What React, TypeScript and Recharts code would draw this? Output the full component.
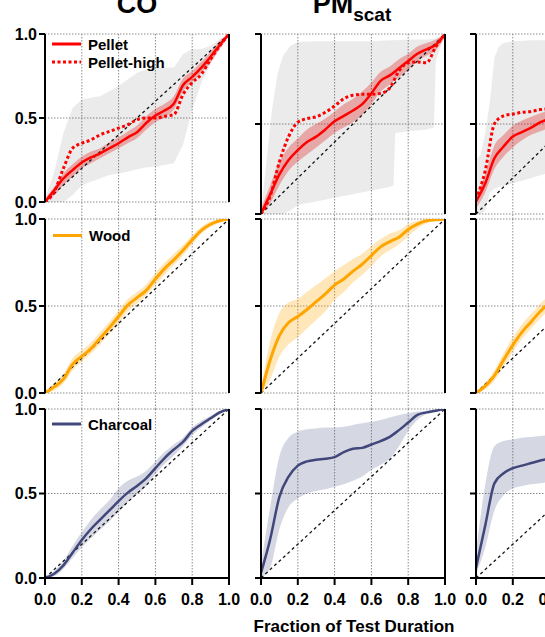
import React from 'react';
import { ComposedChart, Area, Line, XAxis, YAxis, CartesianGrid, ReferenceLine } from 'recharts';

const FONT = '"Liberation Sans", Arial, Helvetica, sans-serif';

// shared x positions (fraction of test duration)
const frac = [0, 0.05, 0.1, 0.15, 0.2, 0.25, 0.3, 0.35, 0.4, 0.45, 0.5, 0.55, 0.6, 0.65, 0.7, 0.75, 0.8, 0.85, 0.9, 0.95, 1];
const fracCut = [0, 0.05, 0.1, 0.15, 0.2, 0.25, 0.3, 0.35, 0.4, 0.45];
const xTicks = [0, 0.2, 0.4, 0.6, 0.8, 1];
const xGrid = [0.2, 0.4, 0.6, 0.8];
const yTicks = [0, 0.5, 1];

// ---- Pellet, CO
const coPellet = [0, 0.07, 0.14, 0.19, 0.235, 0.265, 0.29, 0.32, 0.35, 0.385, 0.415, 0.47, 0.515, 0.545, 0.585, 0.695, 0.745, 0.8, 0.865, 0.935, 1];
const coPelletHigh = [0, 0.06, 0.2, 0.32, 0.35, 0.37, 0.4, 0.42, 0.44, 0.46, 0.49, 0.5, 0.5, 0.51, 0.52, 0.64, 0.71, 0.76, 0.85, 0.93, 1];
const coPelletLo = [0, 0.04, 0.1, 0.15, 0.2, 0.23, 0.26, 0.29, 0.32, 0.35, 0.38, 0.43, 0.475, 0.505, 0.55, 0.66, 0.715, 0.77, 0.83, 0.91, 0.99];
const coPelletHi = [0.02, 0.09, 0.17, 0.225, 0.27, 0.3, 0.32, 0.355, 0.385, 0.42, 0.455, 0.51, 0.555, 0.585, 0.63, 0.735, 0.78, 0.835, 0.895, 0.96, 1];
const coGreyLo = [0, 0, 0, 0.04, 0.1, 0.12, 0.14, 0.16, 0.17, 0.18, 0.195, 0.205, 0.21, 0.22, 0.23, 0.34, 0.55, 0.71, 0.82, 0.92, 1];
const coGreyHi = [0.02, 0.18, 0.41, 0.56, 0.61, 0.62, 0.63, 0.66, 0.69, 0.73, 0.77, 0.79, 0.8, 0.8, 0.8, 0.88, 0.91, 0.91, 0.93, 0.97, 1];

// ---- Pellet, PM scat
const pmPellet = [0, 0.11, 0.22, 0.3, 0.355, 0.4, 0.43, 0.47, 0.515, 0.545, 0.575, 0.61, 0.67, 0.74, 0.77, 0.81, 0.85, 0.89, 0.915, 0.94, 1];
const pmPelletHigh = [0, 0.1, 0.29, 0.43, 0.51, 0.53, 0.54, 0.565, 0.6, 0.64, 0.66, 0.665, 0.665, 0.67, 0.7, 0.795, 0.84, 0.845, 0.84, 0.93, 1];
const pmPelletLo = [0, 0.06, 0.16, 0.24, 0.29, 0.33, 0.37, 0.41, 0.45, 0.48, 0.51, 0.55, 0.61, 0.68, 0.72, 0.76, 0.8, 0.85, 0.88, 0.91, 0.98];
const pmPelletHi = [0.03, 0.16, 0.29, 0.37, 0.42, 0.47, 0.5, 0.53, 0.57, 0.61, 0.64, 0.68, 0.73, 0.79, 0.82, 0.86, 0.89, 0.93, 0.95, 0.97, 1];
const pmGreyX = [0, 0.02, 0.06, 0.09, 0.12, 0.16, 0.2, 0.3, 0.4, 0.5, 0.6, 0.7, 0.72, 0.73, 0.8, 0.9, 0.94, 0.95, 1];
const pmGreyLo = [0, 0, 0, 0, 0, 0.02, 0.05, 0.07, 0.09, 0.11, 0.13, 0.15, 0.16, 0.45, 0.46, 0.47, 0.48, 0.85, 1];
const pmGreyHi = [0.02, 0.2, 0.58, 0.78, 0.88, 0.935, 0.955, 0.96, 0.96, 0.96, 0.96, 0.965, 0.965, 0.965, 0.97, 0.97, 0.975, 0.975, 1];

// ---- Pellet, third column
const c3Pellet = [0.07, 0.17, 0.31, 0.375, 0.43, 0.455, 0.48, 0.51, 0.53, 0.55];
const c3PelletHigh = [0.08, 0.24, 0.5, 0.545, 0.555, 0.565, 0.57, 0.58, 0.585, 0.59];
const c3PelletLo = [0.03, 0.12, 0.25, 0.32, 0.37, 0.41, 0.44, 0.46, 0.48, 0.5];
const c3PelletHi = [0.1, 0.22, 0.38, 0.44, 0.49, 0.52, 0.54, 0.56, 0.58, 0.6];
const c3GreyX = [0, 0.025, 0.05, 0.075, 0.1, 0.125, 0.15, 0.2, 0.3, 0.4, 0.5];
const c3GreyLo = [0, 0, 0.02, 0.12, 0.14, 0.15, 0.155, 0.17, 0.2, 0.23, 0.25];
const c3GreyHi = [0.3, 0.33, 0.45, 0.62, 0.87, 0.93, 0.95, 0.96, 0.965, 0.965, 0.965];

// ---- Wood
const woodCo = [0, 0.035, 0.08, 0.165, 0.21, 0.255, 0.315, 0.375, 0.44, 0.505, 0.548, 0.59, 0.655, 0.715, 0.765, 0.82, 0.88, 0.935, 0.97, 0.99, 1];
const woodCoLo = [0, 0.015, 0.055, 0.13, 0.18, 0.225, 0.28, 0.34, 0.4, 0.47, 0.515, 0.56, 0.62, 0.68, 0.735, 0.79, 0.855, 0.915, 0.955, 0.98, 0.995];
const woodCoHi = [0.01, 0.055, 0.11, 0.2, 0.245, 0.29, 0.35, 0.41, 0.475, 0.54, 0.58, 0.625, 0.69, 0.75, 0.8, 0.85, 0.905, 0.955, 0.985, 0.997, 1];
const woodPm = [0, 0.19, 0.33, 0.405, 0.44, 0.48, 0.525, 0.57, 0.62, 0.655, 0.7, 0.74, 0.79, 0.84, 0.87, 0.895, 0.94, 0.97, 0.99, 0.995, 1];
const woodPmLo = [0, 0.08, 0.21, 0.28, 0.32, 0.37, 0.42, 0.47, 0.535, 0.58, 0.635, 0.68, 0.73, 0.785, 0.82, 0.855, 0.9, 0.945, 0.975, 0.99, 1];
const woodPmHi = [0.02, 0.3, 0.46, 0.52, 0.54, 0.58, 0.62, 0.66, 0.7, 0.735, 0.77, 0.8, 0.845, 0.885, 0.915, 0.935, 0.97, 0.99, 1, 1, 1];
const woodC3 = [0, 0.04, 0.1, 0.19, 0.275, 0.35, 0.41, 0.47, 0.52, 0.57];
const woodC3Lo = [0, 0.02, 0.07, 0.15, 0.235, 0.31, 0.37, 0.43, 0.48, 0.53];
const woodC3Hi = [0.01, 0.06, 0.13, 0.23, 0.32, 0.395, 0.455, 0.515, 0.565, 0.615];

// ---- Charcoal
const charCo = [0, 0.025, 0.075, 0.15, 0.225, 0.29, 0.345, 0.4, 0.455, 0.505, 0.545, 0.59, 0.65, 0.71, 0.76, 0.805, 0.87, 0.91, 0.945, 0.98, 1];
const charCoLo = [0, 0.01, 0.055, 0.12, 0.18, 0.235, 0.285, 0.335, 0.39, 0.45, 0.495, 0.545, 0.615, 0.675, 0.725, 0.78, 0.845, 0.89, 0.93, 0.97, 1];
const charCoHi = [0.01, 0.04, 0.1, 0.19, 0.27, 0.345, 0.405, 0.46, 0.53, 0.575, 0.6, 0.635, 0.69, 0.745, 0.79, 0.83, 0.89, 0.93, 0.96, 0.99, 1];
const charPm = [0.03, 0.23, 0.48, 0.6, 0.665, 0.69, 0.7, 0.705, 0.715, 0.745, 0.765, 0.77, 0.79, 0.81, 0.835, 0.875, 0.92, 0.965, 0.98, 0.99, 1];
const charPmLo = [0, 0.06, 0.29, 0.42, 0.47, 0.5, 0.515, 0.525, 0.54, 0.555, 0.575, 0.6, 0.64, 0.67, 0.705, 0.78, 0.87, 0.935, 0.97, 0.985, 1];
const charPmHi = [0.08, 0.42, 0.72, 0.83, 0.865, 0.88, 0.885, 0.89, 0.89, 0.895, 0.905, 0.915, 0.925, 0.935, 0.95, 0.965, 0.975, 0.985, 0.99, 0.997, 1];
const charC3 = [0.06, 0.31, 0.56, 0.62, 0.65, 0.665, 0.68, 0.695, 0.705, 0.71];
const charC3Lo = [0.02, 0.18, 0.4, 0.49, 0.53, 0.545, 0.555, 0.56, 0.57, 0.575];
const charC3Hi = [0.15, 0.55, 0.78, 0.81, 0.82, 0.83, 0.835, 0.84, 0.845, 0.85];

const RED = '#ff0000';
const ORANGE = '#ffa500';
const NAVY = '#41477a';

type Band = { xs: number[]; lo: number[]; hi: number[]; fill: string; opacity: number; curve: 'linear' | 'monotone' };
type Trace = { xs: number[]; ys: number[]; stroke: string; width: number; dash?: string };

const toBand = (xs: number[], lo: number[], hi: number[]) => xs.map((x, i) => ({ x, range: [lo[i], hi[i]] }));
const toLine = (xs: number[], ys: number[]) => xs.map((x, i) => ({ x, y: ys[i] }));

const grey = (xs: number[], lo: number[], hi: number[]): Band => ({ xs, lo, hi, fill: '#000', opacity: 0.08, curve: 'linear' });
const pink = (xs: number[], lo: number[], hi: number[]): Band => ({ xs, lo, hi, fill: '#e10000', opacity: 0.285, curve: 'monotone' });
const amber = (xs: number[], lo: number[], hi: number[]): Band => ({ xs, lo, hi, fill: ORANGE, opacity: 0.27, curve: 'monotone' });
const slate = (xs: number[], lo: number[], hi: number[]): Band => ({ xs, lo, hi, fill: NAVY, opacity: 0.22, curve: 'monotone' });

const pellet = (xs: number[], ys: number[]): Trace => ({ xs, ys, stroke: RED, width: 2.5 });
const pelletHigh = (xs: number[], ys: number[]): Trace => ({ xs, ys, stroke: RED, width: 3, dash: '3 2.5' });

const tickStyle = { fontSize: 16, fontWeight: 700, fill: '#000', fontFamily: FONT };
const YW = 45, MT = 20, MB = 10, MR = 16, XH = 42, PW = 184;

// gap (in px) above a panel that the vertical grid lines run through
function Panel({ left, top, h, gapAbove, bands, traces, yLabels, xAxis }: {
  left: number; top: number; h: number; gapAbove: number; bands: Band[]; traces: Trace[]; yLabels: boolean; xAxis: boolean;
}) {
  const height = MT + h + (xAxis ? XH : MB);
  const ext = 1 + gapAbove / h;
  return (
    <div style={{ position: 'absolute', left: left - YW, top: top - MT }}>
      <ComposedChart width={YW + PW + MR} height={height} margin={{ top: MT, right: MR, bottom: xAxis ? 0 : MB, left: 0 }}>
        <CartesianGrid stroke="#8c8c8c" strokeDasharray="1.5 1.5" horizontalValues={yTicks} verticalValues={xGrid} />
        <XAxis
          type="number" dataKey="x" domain={[0, 1]} ticks={xTicks} allowDataOverflow interval={0}
          hide={!xAxis} height={XH}
          axisLine={{ stroke: '#000', strokeWidth: 2 }}
          tickLine={{ stroke: '#000', strokeWidth: 2 }}
          tickSize={7} tickMargin={9} tick={tickStyle}
          tickFormatter={(v: number) => v.toFixed(1)}
        />
        <YAxis
          type="number" domain={[0, 1]} ticks={yTicks} allowDataOverflow interval={0} width={YW}
          axisLine={{ stroke: '#000', strokeWidth: 2 }}
          tickLine={{ stroke: '#000', strokeWidth: 2 }}
          tickSize={6} tickMargin={2} tick={tickStyle}
          tickFormatter={(v: number) => (yLabels ? v.toFixed(1) : '')}
        />
        {gapAbove > 0 && xGrid.map(g => (
          <ReferenceLine key={'g' + g} segment={[{ x: g, y: 1 }, { x: g, y: ext }]} ifOverflow="visible"
            stroke="#8c8c8c" strokeDasharray="1.5 1.5" />
        ))}
        {bands.map((b, i) => (
          <Area key={'b' + i} data={toBand(b.xs, b.lo, b.hi)} dataKey="range" type={b.curve}
            stroke="none" fill={b.fill} fillOpacity={b.opacity} isAnimationActive={false} />
        ))}
        <ReferenceLine segment={[{ x: 0, y: 0 }, { x: 1, y: 1 }]} stroke="#111" strokeWidth={1.3} strokeDasharray="3 3" />
        {traces.map((t, i) => (
          <Line key={'t' + i} data={toLine(t.xs, t.ys)} dataKey="y" type="monotone" stroke={t.stroke}
            strokeWidth={t.width} strokeDasharray={t.dash} dot={false} isAnimationActive={false} />
        ))}
        <ReferenceLine x={1} stroke="#000" strokeWidth={2} />
      </ComposedChart>
    </div>
  );
}

function LegendItem({ x, y, label, color, dash }: { x: number; y: number; label: string; color: string; dash?: string }) {
  return (
    <g>
      <line x1={x} x2={x + 29} y1={y} y2={y} stroke={color} strokeWidth={3} strokeDasharray={dash} />
      <text x={x + 36} y={y + 5.5} fontSize={15} fontWeight={700} fontFamily={FONT} fill="#000">{label}</text>
    </g>
  );
}

export default function App() {
  const cols = [45, 261, 476];
  return (
    <div style={{ position: 'absolute', left: 0, top: 0, width: 545, height: 637, overflow: 'hidden', background: '#fff' }}>
      {/* row 1: pellet */}
      <Panel left={cols[0]} top={34} h={168} gapAbove={0} yLabels xAxis={false}
        bands={[grey(frac, coGreyLo, coGreyHi), pink(frac, coPelletLo, coPelletHi)]}
        traces={[pellet(frac, coPellet), pelletHigh(frac, coPelletHigh)]} />
      <Panel left={cols[1]} top={34} h={180} gapAbove={0} yLabels={false} xAxis={false}
        bands={[grey(pmGreyX, pmGreyLo, pmGreyHi), pink(frac, pmPelletLo, pmPelletHi)]}
        traces={[pellet(frac, pmPellet), pelletHigh(frac, pmPelletHigh)]} />
      <Panel left={cols[2]} top={34} h={180} gapAbove={0} yLabels={false} xAxis={false}
        bands={[grey(c3GreyX, c3GreyLo, c3GreyHi), pink(fracCut, c3PelletLo, c3PelletHi)]}
        traces={[pellet(fracCut, c3Pellet), pelletHigh(fracCut, c3PelletHigh)]} />

      {/* row 2: wood */}
      <Panel left={cols[0]} top={219} h={174} gapAbove={17} yLabels xAxis={false}
        bands={[amber(frac, woodCoLo, woodCoHi)]}
        traces={[{ xs: frac, ys: woodCo, stroke: ORANGE, width: 3 }]} />
      <Panel left={cols[1]} top={219} h={174} gapAbove={5} yLabels={false} xAxis={false}
        bands={[amber(frac, woodPmLo, woodPmHi)]}
        traces={[{ xs: frac, ys: woodPm, stroke: ORANGE, width: 3 }]} />
      <Panel left={cols[2]} top={219} h={174} gapAbove={5} yLabels={false} xAxis={false}
        bands={[amber(fracCut, woodC3Lo, woodC3Hi)]}
        traces={[{ xs: fracCut, ys: woodC3, stroke: ORANGE, width: 3 }]} />

      {/* row 3: charcoal */}
      <Panel left={cols[0]} top={409} h={169} gapAbove={16} yLabels xAxis
        bands={[slate(frac, charCoLo, charCoHi)]}
        traces={[{ xs: frac, ys: charCo, stroke: NAVY, width: 2.5 }]} />
      <Panel left={cols[1]} top={409} h={169} gapAbove={16} yLabels={false} xAxis
        bands={[slate(frac, charPmLo, charPmHi)]}
        traces={[{ xs: frac, ys: charPm, stroke: NAVY, width: 2.5 }]} />
      <Panel left={cols[2]} top={409} h={169} gapAbove={16} yLabels={false} xAxis
        bands={[slate(fracCut, charC3Lo, charC3Hi)]}
        traces={[{ xs: fracCut, ys: charC3, stroke: NAVY, width: 2.5 }]} />

      <svg width={545} height={637} style={{ position: 'absolute', left: 0, top: 0, pointerEvents: 'none' }}>
        <text x={137} y={13} textAnchor="middle" fontSize={27} fontWeight={700} fontFamily={FONT}>CO</text>
        <text x={352} y={13} textAnchor="middle" fontWeight={700} fontFamily={FONT}>
          <tspan fontSize={27}>PM</tspan>
          <tspan fontSize={19} dy={8}>scat</tspan>
        </text>
        <LegendItem x={52} y={44} label="Pellet" color={RED} />
        <LegendItem x={52} y={62} label="Pellet-high" color={RED} dash="3 2.5" />
        <LegendItem x={53} y={235.5} label="Wood" color={ORANGE} />
        <LegendItem x={52} y={424} label="Charcoal" color={NAVY} />
        <text x={354} y={632} textAnchor="middle" fontSize={17} fontWeight={700} fontFamily={FONT}>Fraction of Test Duration</text>
      </svg>
    </div>
  );
}
